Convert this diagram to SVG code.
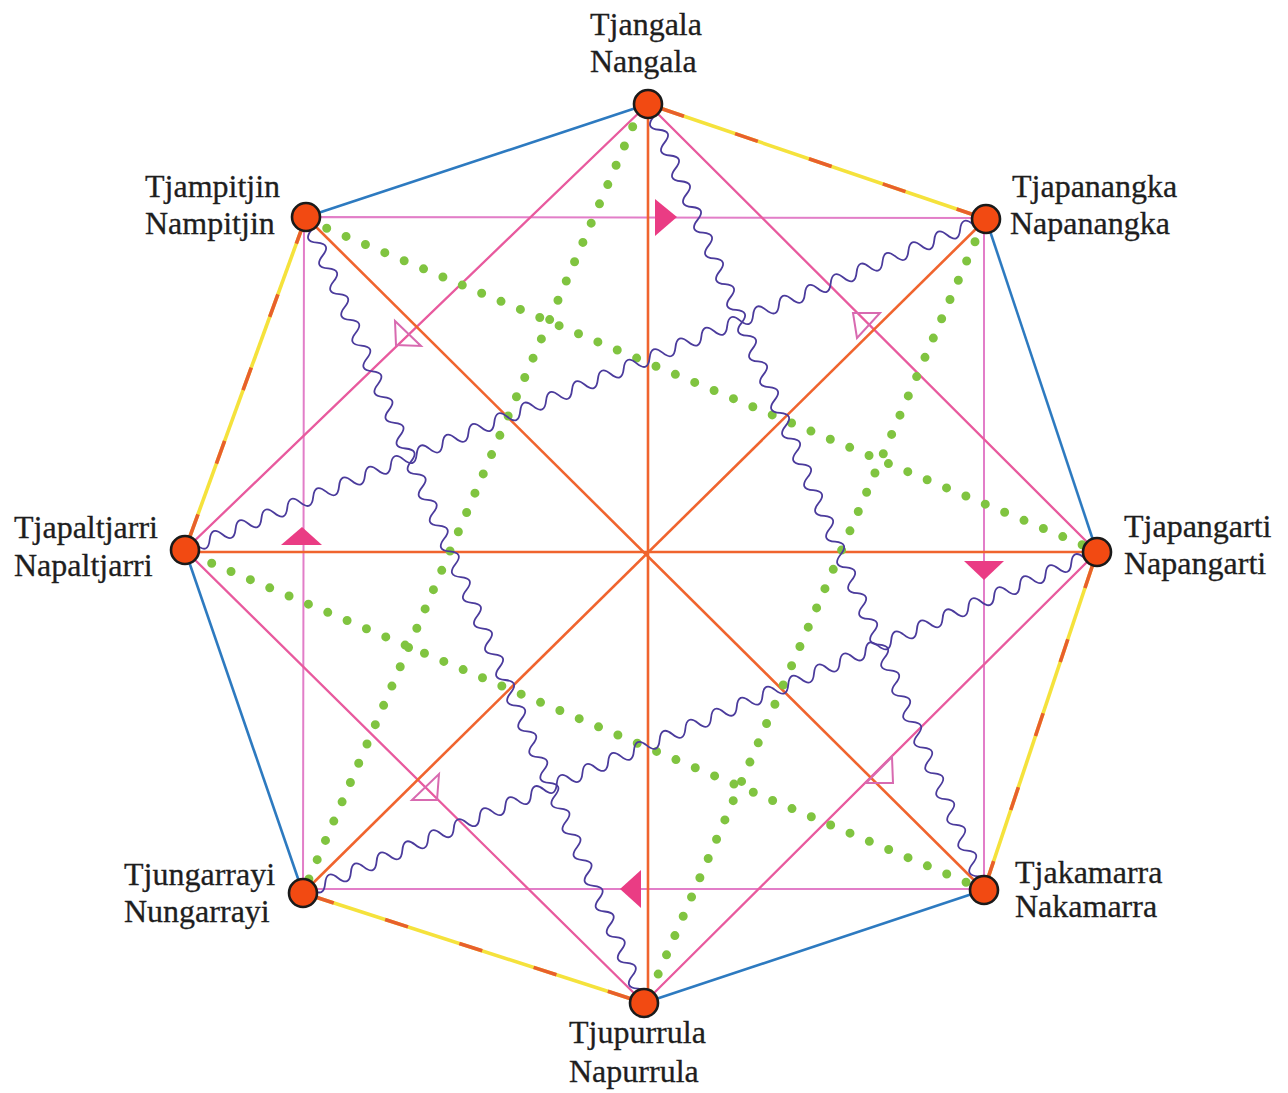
<svg xmlns="http://www.w3.org/2000/svg" xmlns:xlink="http://www.w3.org/1999/xlink" width="1288" height="1093" viewBox="0 0 1288 1093">
<style>
  .lbl { font-family: "Liberation Serif", "Times New Roman", serif; font-size: 32px; fill: #1e1e1e; stroke: #1e1e1e; stroke-width: 0.3; }
  .blue { stroke: #2d7ac0; stroke-width: 2.6; fill: none; }
  .yel { stroke: #f5e23c; stroke-width: 3.6; fill: none; }
  .yeld { stroke: #e8602c; stroke-width: 3.6; fill: none; stroke-dasharray: 24 54; }
  .orange { stroke: #f0642e; stroke-width: 2.6; fill: none; }
  .pinkA { stroke: #e85a9e; stroke-width: 2.3; fill: none; }
  .pinkB { stroke: #e27ec8; stroke-width: 2; fill: none; }
  .green { stroke: #80c440; stroke-width: 9; stroke-linecap: round; stroke-dasharray: 0 21; fill: none; }
  .wave { stroke: #4b3b9c; stroke-width: 1.8; fill: none; }
  .farrow { fill: #ea3c84; stroke: none; }
  .oarrow { fill: none; stroke: #d86ab0; stroke-width: 2; stroke-linejoin: miter; }
  .node { fill: #f24a12; stroke: #1a1a1a; stroke-width: 2.6; }
</style>
<defs>
  <path id="wave61" d="M0,0 q7,-13 14,0 t14,0 t14,0 t14,0 t14,0 t14,0 t14,0 t14,0 t14,0 t14,0 t14,0 t14,0 t14,0 t14,0 t14,0 t14,0 t14,0 t14,0 t14,0 t14,0 t14,0 t14,0 t14,0 t14,0 t14,0 t14,0 t14,0 t14,0 t14,0 t14,0 t14,0 t14,0 t14,0 t14,0 t14,0 t14,0 t14,0 t14,0 t14,0 t14,0 t14,0 t14,0 t14,0 t14,0 t14,0 t14,0 t14,0 t14,0 t14,0 t14,0 t14,0 t14,0 t14,0 t14,0 t14,0 t14,0 t14,0 t14,0 t14,0 t14,0 t14,0"/>
  <path id="wave62" d="M0,0 q7,-13 14,0 t14,0 t14,0 t14,0 t14,0 t14,0 t14,0 t14,0 t14,0 t14,0 t14,0 t14,0 t14,0 t14,0 t14,0 t14,0 t14,0 t14,0 t14,0 t14,0 t14,0 t14,0 t14,0 t14,0 t14,0 t14,0 t14,0 t14,0 t14,0 t14,0 t14,0 t14,0 t14,0 t14,0 t14,0 t14,0 t14,0 t14,0 t14,0 t14,0 t14,0 t14,0 t14,0 t14,0 t14,0 t14,0 t14,0 t14,0 t14,0 t14,0 t14,0 t14,0 t14,0 t14,0 t14,0 t14,0 t14,0 t14,0 t14,0 t14,0 t14,0 t14,0"/>
</defs>
<rect width="1288" height="1093" fill="#ffffff"/>
<g id="connectors">
  <!-- octagon edges -->
  <line class="blue" x1="306" y1="217" x2="648" y2="104"/>
  <line class="blue" x1="986" y1="219" x2="1097" y2="552"/>
  <line class="blue" x1="984" y1="890" x2="644" y2="1003"/>
  <line class="blue" x1="303" y1="893" x2="185" y2="550"/>
  <line class="yel" x1="648" y1="104" x2="986" y2="219"/>
  <line class="yeld" x1="648" y1="104" x2="986" y2="219" stroke-dashoffset="-14"/>
  <line class="yel" x1="1097" y1="552" x2="984" y2="890"/>
  <line class="yeld" x1="1097" y1="552" x2="984" y2="890" stroke-dashoffset="-14"/>
  <line class="yel" x1="644" y1="1003" x2="303" y2="893"/>
  <line class="yeld" x1="644" y1="1003" x2="303" y2="893" stroke-dashoffset="-14"/>
  <line class="yel" x1="185" y1="550" x2="306" y2="217"/>
  <line class="yeld" x1="185" y1="550" x2="306" y2="217" stroke-dashoffset="-14"/>
  <!-- light pink square -->
  <polygon class="pinkB" points="304,217 984,218 984,889 303,889"/>
  <!-- strong pink square -->
  <polygon class="pinkA" points="648,104 1097,552 644,1003 185,550"/>
  <!-- orange diameters -->
  <line class="orange" x1="648" y1="104" x2="648" y2="1003"/>
  <line class="orange" x1="185" y1="552" x2="1097" y2="552"/>
  <line class="orange" x1="306" y1="217" x2="984" y2="890"/>
  <line class="orange" x1="986" y1="219" x2="303" y2="893"/>
  <!-- green dotted -->
  <line class="green" x1="632.7" y1="126.7" x2="305" y2="888"/>
  <line class="green" x1="975" y1="241.7" x2="647" y2="1000"/>
  <line class="green" x1="326.7" y1="228.3" x2="1090" y2="548"/>
  <line class="green" x1="211.7" y1="563.3" x2="975" y2="886"/>
  <!-- wavy -->
  <use xlink:href="#wave61" class="wave" transform="translate(648,104) rotate(66.85)"/>
  <use xlink:href="#wave61" class="wave" transform="translate(306,217) rotate(66.73)"/>
  <use xlink:href="#wave62" class="wave" transform="translate(986,219) rotate(157.55)"/>
  <use xlink:href="#wave62" class="wave" transform="translate(1097,552) rotate(156.76)"/>
  <!-- filled arrows (light pink square) -->
  <polygon class="farrow" points="655,199 655,236 677,217"/>
  <polygon class="farrow" points="964,561 1004,561 984,580"/>
  <polygon class="farrow" points="641,870 641,908 620,889"/>
  <polygon class="farrow" points="281,545 322,545 302,527"/>
  <!-- open arrows (strong pink square) -->
  <polygon class="oarrow" points="395,321 396,345 421,346"/>
  <polygon class="oarrow" points="853,313 880,313 857,338"/>
  <polygon class="oarrow" points="892,757 893,783 866,783"/>
  <polygon class="oarrow" points="439,774 437,800 412,800"/>
</g>
<g id="n0"><circle class="node" cx="648" cy="104" r="14"/><text class="lbl" x="590" y="35">Tjangala</text><text class="lbl" x="590" y="72">Nangala</text></g>
<g id="n1"><circle class="node" cx="986" cy="219" r="14"/><text class="lbl" x="1012" y="197">Tjapanangka</text><text class="lbl" x="1010" y="234">Napanangka</text></g>
<g id="n2"><circle class="node" cx="1097" cy="552" r="14"/><text class="lbl" x="1124" y="537">Tjapangarti</text><text class="lbl" x="1124" y="574">Napangarti</text></g>
<g id="n3"><circle class="node" cx="984" cy="890" r="14"/><text class="lbl" x="1015" y="883">Tjakamarra</text><text class="lbl" x="1015" y="917">Nakamarra</text></g>
<g id="n4"><circle class="node" cx="644" cy="1003" r="14"/><text class="lbl" x="569" y="1043">Tjupurrula</text><text class="lbl" x="569" y="1082">Napurrula</text></g>
<g id="n5"><circle class="node" cx="303" cy="893" r="14"/><text class="lbl" x="124" y="885">Tjungarrayi</text><text class="lbl" x="124" y="922">Nungarrayi</text></g>
<g id="n6"><circle class="node" cx="185" cy="550" r="14"/><text class="lbl" x="14" y="538">Tjapaltjarri</text><text class="lbl" x="14" y="576">Napaltjarri</text></g>
<g id="n7"><circle class="node" cx="306" cy="217" r="14"/><text class="lbl" x="145" y="197">Tjampitjin</text><text class="lbl" x="145" y="234">Nampitjin</text></g>
</svg>
